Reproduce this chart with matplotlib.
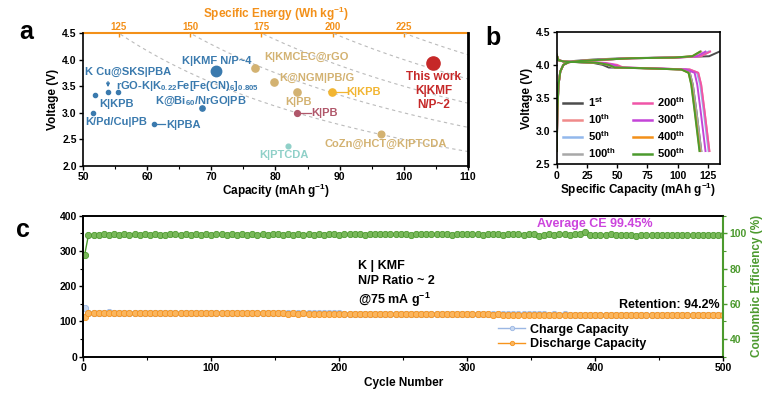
import numpy as np
import matplotlib
matplotlib.use("Agg")
import matplotlib.pyplot as plt
from matplotlib.ticker import MultipleLocator

plt.rcParams['font.family'] = ['Liberation Sans', 'DejaVu Sans']
plt.rcParams['font.weight'] = 'bold'
plt.rcParams['axes.labelweight'] = 'bold'
plt.rcParams['mathtext.fontset'] = 'custom'
plt.rcParams['mathtext.rm'] = 'Liberation Sans:bold'
plt.rcParams['mathtext.it'] = 'Liberation Sans:bold'
plt.rcParams['mathtext.bf'] = 'Liberation Sans:bold'
plt.rcParams['axes.linewidth'] = 1.2

BLUE = '#3A7AAE'
TAN = '#D3B271'
YELLOW = '#F2B531'
MAUVE = '#B0576A'
TEAL = '#8FD0C8'
RED = '#C62828'
ORANGE = '#F39019'
GREEN = '#4C9A2E'

# ---------- panel a: comparison ----------
lit_names = ['K|KMF N/P~4', 'K Cu@SKS|PBA', 'rGO', 'K|KPB', 'K/Pd/Cu|PB', 'K|PBA',
             'K@Bi60/NrGO|PB', 'K|KMCEC@rGO', 'K@NGM|PB/G', 'K|PB', 'K|KPB (y)',
             'K|PB (m)', 'CoZn@HCT@K|PTCDA', 'K|PTCDA', 'This work']
lit_cap = [70.7, 53.9, 55.4, 51.9, 51.5, 61.0, 68.5, 76.8, 79.7, 83.3, 88.75,
           83.3, 96.4, 82.0, 104.5]
lit_volt = [3.79, 3.39, 3.39, 3.33, 2.99, 2.79, 3.10, 3.84, 3.58, 3.40, 3.40,
            2.99, 2.60, 2.38, 3.93]
lit_color = [BLUE, BLUE, BLUE, BLUE, BLUE, BLUE, BLUE, TAN, TAN, TAN, YELLOW,
             MAUVE, TAN, TEAL, RED]
lit_size = [7.5, 3.0, 3.0, 3.0, 3.0, 3.0, 3.8, 5.2, 5.2, 5.2, 5.2, 4.2, 4.8, 3.4, 9.5]
energy_lines = [125, 150, 175, 200, 225]

# ---------- panel b: charge/discharge profiles ----------
cycle_names = ['1$^{st}$', '10$^{th}$', '50$^{th}$', '100$^{th}$',
               '200$^{th}$', '300$^{th}$', '400$^{th}$', '500$^{th}$']
cycle_colors = ['#4D4D4D', '#F08A8A', '#92B8EC', '#A8A8A8',
                '#F055A8', '#C444D8', '#F39019', '#4C9A2E']
chg_v = [2.70, 3.30, 3.70, 3.90, 4.00, 4.04, 4.06, 4.08, 4.10, 4.11, 4.13, 4.20]
chg_cap = [
    [0, 0.6, 1.5, 3.0, 5.5, 9.0, 15, 30, 55, 90, 126, 134.5],
    [0, 0.6, 1.5, 3.0, 5.5, 10, 20, 40, 62, 100, 119, 126.5],
    [0, 0.6, 1.5, 3.0, 5.5, 10, 20, 40, 62, 100, 118, 125.5],
    [0, 0.6, 1.5, 3.0, 5.5, 10, 20, 40, 62, 98, 113, 119.5],
    [0, 0.6, 1.5, 3.0, 5.5, 10, 20, 40, 62, 100, 119, 126.8],
    [0, 0.6, 1.5, 3.0, 5.5, 10, 20, 40, 62, 98, 116, 123.0],
    [0, 0.6, 1.5, 3.0, 5.5, 10, 20, 40, 62, 97, 112, 118.8],
    [0, 0.6, 1.5, 3.0, 5.5, 10, 20, 40, 62, 97, 112, 118.5],
]
dis_v = [4.15, 4.07, 4.05, 4.03, 4.00, 3.96, 3.95, 3.93, 3.88, 3.70, 3.30, 2.70]
dis_cap = [
    [0, 1.5, 6, 30, 38, 43, 70, 104, 110, 112.5, 115.5, 119.5],
    [0, 1.5, 6, 36, 46, 52, 75, 110, 117, 119.4, 122.2, 126.2],
    [0, 1.5, 6, 36, 46, 52, 75, 109, 116, 118.6, 121.5, 125.5],
    [0, 1.5, 6, 33, 42, 47, 70, 104, 110, 112.5, 115.5, 119.5],
    [0, 1.5, 6, 40, 50, 55, 75, 110, 117, 119.4, 122.2, 126.2],
    [0, 1.5, 6, 38, 47, 52, 75, 107, 114, 116.2, 119.0, 123.0],
    [0, 1.5, 6, 34, 43, 48, 70, 103, 109, 111.4, 114.2, 118.3],
    [0, 1.5, 6, 34, 43, 48, 70, 103, 109, 111.2, 114.0, 118.0],
]

# ---------- panel c: long cycling ----------
cycles = np.r_[1, np.arange(4, 501, 4)]
discharge = [
    113.0, 122.6, 124.3, 124.6, 124.4, 124.7, 124.5, 124.3, 124.6, 124.4,
    124.2, 124.5, 124.3, 124.0, 124.2, 123.9, 124.1, 123.8, 124.0, 123.7,
    123.9, 123.6, 123.8, 123.5, 123.7, 123.4, 123.6, 123.3, 123.5, 123.2,
    123.4, 123.1, 123.3, 123.0, 123.2, 122.9, 122.7, 122.9, 122.6, 122.8,
    122.5, 122.7, 122.4, 122.6, 122.3, 122.1, 122.3, 122.0, 122.2, 121.9,
    122.1, 121.8, 121.6, 121.8, 121.5, 121.7, 121.4, 121.6, 121.3, 121.1,
    121.3, 121.0, 121.2, 120.9, 120.7, 120.9, 120.6, 120.8, 120.5, 120.7,
    120.4, 120.2, 120.4, 120.1, 120.3, 120.0, 119.8, 120.0, 119.7, 119.9,
    119.6, 119.8, 119.5, 119.3, 119.5, 119.2, 119.4, 119.1, 119.3, 119.0,
    119.2, 118.9, 119.1, 118.8, 119.0, 118.7, 118.9, 118.6, 118.8, 118.5,
    118.7, 118.4, 118.6, 118.3, 118.5, 118.2, 118.4, 118.1, 118.3, 118.0,
    118.2, 117.9, 118.1, 117.8, 118.0, 117.7, 117.9, 117.6, 117.8, 117.7,
    117.9, 117.6, 117.8, 117.7, 117.9, 117.8,
]
charge = [
    138.0, 124.2, 125.0, 125.3, 125.1, 125.4, 125.2, 125.0, 125.3, 125.1,
    124.9, 125.2, 125.0, 124.7, 124.9, 124.6, 124.8, 124.5, 124.7, 124.4,
    124.6, 124.3, 124.5, 124.2, 124.4, 124.1, 124.3, 124.0, 124.2, 123.9,
    124.1, 123.8, 124.0, 123.7, 123.9, 123.6, 123.4, 123.6, 123.3, 123.5,
    123.2, 123.4, 123.1, 123.3, 123.0, 122.8, 123.0, 122.7, 122.9, 122.6,
    122.8, 122.5, 122.3, 122.5, 122.2, 122.4, 122.1, 122.3, 122.0, 121.8,
    122.0, 121.7, 121.9, 121.6, 121.4, 121.6, 121.3, 121.5, 121.2, 121.4,
    121.1, 120.9, 121.1, 120.8, 121.0, 120.7, 120.5, 120.7, 120.4, 120.6,
    120.3, 120.5, 120.2, 120.0, 120.2, 119.9, 120.1, 119.8, 120.0, 119.7,
    119.9, 119.6, 119.8, 119.5, 119.7, 119.4, 119.6, 119.3, 119.5, 119.2,
    119.4, 119.1, 119.3, 119.0, 119.2, 118.9, 119.1, 118.8, 119.0, 118.7,
    118.9, 118.6, 118.8, 118.5, 118.7, 118.4, 118.6, 118.3, 118.5, 118.4,
    118.6, 118.3, 118.5, 118.4, 118.6, 118.5,
]
ce = [
    87.6, 98.9, 99.3, 99.2, 99.4, 99.3, 99.5, 99.2, 99.4, 99.3,
    99.4, 99.2, 99.5, 99.3, 99.4, 99.3, 99.2, 99.5, 99.4, 99.3,
    99.4, 99.3, 99.5, 99.2, 99.4, 99.3, 99.4, 99.5, 99.3, 99.4,
    99.2, 99.4, 99.3, 99.5, 99.3, 99.4, 99.2, 99.4, 99.5, 99.3,
    99.4, 99.3, 99.4, 99.2, 99.5, 99.3, 99.4, 99.3, 99.5, 99.4,
    99.3, 99.5, 99.6, 99.4, 99.5, 99.3, 99.6, 99.5, 99.4, 99.6,
    99.5, 99.4, 99.6, 99.5, 99.3, 99.5, 99.6, 99.4, 99.5, 99.4,
    99.6, 99.5, 99.3, 99.5, 99.4, 99.6, 99.5, 99.4, 99.3, 99.5,
    99.4, 99.5, 99.3, 99.6, 99.4, 99.5, 99.3, 99.4, 99.5, 98.7,
    99.2, 99.4, 99.3, 99.5, 99.4, 99.3, 99.6, 99.8, 100.5, 99.3,
    98.8, 99.2, 99.3, 99.4, 99.2, 99.3, 99.1, 99.2, 98.5, 99.0,
    99.2, 99.1, 99.3, 99.0, 99.2, 99.1, 99.0, 99.2, 99.1, 99.0,
    99.2, 99.1, 99.0, 99.1, 98.8, 99.0,
]

fig = plt.figure(figsize=(7.8, 4.03), dpi=100)

# ================= a =================
ax = fig.add_axes([0.1064, 0.588, 0.4936, 0.330])
cgrid = np.linspace(50, 110, 200)
for e in energy_lines:
    ax.plot(cgrid, 2 * e / cgrid, ls=(0, (3, 3)), color='#BBBBBB', lw=0.8, zorder=1)
for c, v, col, s in zip(lit_cap, lit_volt, lit_color, lit_size):
    ax.plot(c, v, 'o', color=col, ms=s, zorder=3)

kw = dict(fontsize=8, fontweight='bold')
ax.text(70.8, 3.97, 'K|KMF N/P~4', color=BLUE, ha='center', va='center', **kw)
ax.text(50.3, 3.77, 'K Cu@SKS|PBA', color=BLUE, ha='left', va='center', **kw)
ax.annotate('', xy=(53.9, 3.43), xytext=(53.9, 3.64),
            arrowprops=dict(arrowstyle='-|>', color=BLUE, lw=0.9, mutation_scale=5))
ax.text(55.2, 3.50, r'rGO-K|K$_{0.22}$Fe[Fe(CN)$_6$]$_{0.805}$', color=BLUE,
        ha='left', va='center', **kw)
ax.text(52.6, 3.17, 'K|KPB', color=BLUE, ha='left', va='center', **kw)
ax.text(50.3, 2.83, 'K/Pd/Cu|PB', color=BLUE, ha='left', va='center', **kw)
ax.plot([61.0, 62.8], [2.79, 2.79], color=BLUE, lw=0.9)
ax.text(62.9, 2.78, 'K|PBA', color=BLUE, ha='left', va='center', **kw)
ax.text(68.4, 3.22, r'K@Bi$_{60}$/NrGO|PB', color=BLUE, ha='center', va='center', **kw)
ax.text(78.3, 4.06, 'K|KMCEC@rGO', color=TAN, ha='left', va='center', **kw)
ax.text(80.6, 3.65, 'K@NGM|PB/G', color=TAN, ha='left', va='center', **kw)
ax.text(83.6, 3.21, 'K|PB', color=TAN, ha='center', va='center', **kw)
ax.plot([88.75, 91.1], [3.40, 3.40], color=YELLOW, lw=0.9)
ax.text(91.1, 3.40, 'K|KPB', color=YELLOW, ha='left', va='center', **kw)
ax.plot([83.3, 85.6], [2.99, 2.99], color=MAUVE, lw=0.9)
ax.text(85.6, 2.99, 'K|PB', color=MAUVE, ha='left', va='center', **kw)
ax.text(97.1, 2.41, 'CoZn@HCT@K|PTCDA', color=TAN, ha='center', va='center', **kw)
ax.text(81.3, 2.21, 'K|PTCDA', color=TEAL, ha='center', va='center', **kw)
ax.text(104.6, 3.41, 'This work\nK|KMF\nN/P~2', color=RED, ha='center',
        va='center', linespacing=1.25, fontsize=8.5, fontweight='bold')

ax.set_xlim(50, 110)
ax.set_ylim(2.0, 4.5)
ax.set_xticks([50, 60, 70, 80, 90, 100, 110])
ax.set_yticks([2.0, 2.5, 3.0, 3.5, 4.0, 4.5])
ax.xaxis.set_minor_locator(MultipleLocator(5))
ax.tick_params(labelsize=7.5, width=1, length=3, pad=1.5)
ax.tick_params(which='minor', length=2, width=0.8)
ax.tick_params(axis='y', right=False)
ax.set_xlabel('Capacity (mAh g$^{-1}$)', fontsize=8.5, labelpad=0)
ax.set_ylabel('Voltage (V)', fontsize=8.5, labelpad=2)
ax.spines['right'].set_linewidth(2)
ax.spines['top'].set_visible(False)
sec = ax.secondary_xaxis('top', functions=(lambda c: c * 2.25, lambda e: e / 2.25))
sec.set_xticks([125, 150, 175, 200, 225])
sec.tick_params(colors=ORANGE, labelsize=7, width=1, length=3, pad=1,
                direction='in')
sec.spines['top'].set_color(ORANGE)
sec.spines['top'].set_linewidth(1.5)
sec.set_xlabel('Specific Energy (Wh kg$^{-1}$)', color=ORANGE, fontsize=8.5, labelpad=2.5)
fig.text(0.033, 0.92, 'a', fontsize=18, fontweight='bold', ha='center', va='center')

# ================= b =================
axb = fig.add_axes([0.7137, 0.5923, 0.2094, 0.329])
for name, col, cc, dc in zip(cycle_names, cycle_colors, chg_cap, dis_cap):
    axb.plot(cc, chg_v, color=col, lw=1.4, label=name)
    axb.plot(dc, dis_v, color=col, lw=1.4)
axb.set_xlim(0, 135)
axb.set_ylim(2.5, 4.5)
axb.set_xticks([0, 25, 50, 75, 100, 125])
axb.set_yticks([2.5, 3.0, 3.5, 4.0, 4.5])
axb.tick_params(labelsize=7.5, width=1, length=3, pad=1.5)
axb.set_xlabel('Specific Capacity (mAh g$^{-1}$)', fontsize=8.5, labelpad=0)
axb.set_ylabel('Voltage (V)', fontsize=8.5, labelpad=2)
leg = axb.legend(loc='lower left', bbox_to_anchor=(0.04, 0.03), ncol=2, frameon=False,
                 fontsize=8, handlelength=1.7, handletextpad=0.5, columnspacing=1.6,
                 labelspacing=0.3, borderaxespad=0, borderpad=0)
for h in leg.get_lines():
    h.set_linewidth(1.8)
fig.text(0.632, 0.905, 'b', fontsize=18, fontweight='bold', ha='center', va='center')

# ================= c =================
axc = fig.add_axes([0.1068, 0.1149, 0.8205, 0.3499])
axc.plot(cycles, charge, '-o', color='#9BB7E3', mfc='#C7D8F2', mec='#9BB7E3',
         ms=4.5, mew=0.6, lw=1, label='Charge Capacity')
axc.plot(cycles, discharge, '-o', color='#F7941D', mfc='#FAB55E', mec='#F7941D',
         ms=4.5, mew=0.6, lw=1, label='Discharge Capacity')
axc.set_xlim(0, 500)
axc.set_ylim(0, 400)
axc.set_xticks([0, 100, 200, 300, 400, 500])
axc.set_yticks([0, 100, 200, 300, 400])
axc.xaxis.set_minor_locator(MultipleLocator(50))
axc.yaxis.set_minor_locator(MultipleLocator(50))
axc.tick_params(labelsize=7.5, width=1, length=3, pad=1.5)
axc.tick_params(which='minor', length=2, width=0.8)
axc.set_xlabel('Cycle Number', fontsize=8.5, labelpad=3)
axc.spines['right'].set_visible(False)
leg_c = axc.legend(loc='lower left', bbox_to_anchor=(0.64, 0.01), frameon=False,
                   fontsize=9, handlelength=2.2, handletextpad=0.4, labelspacing=0.2,
                   borderaxespad=0, markerscale=0.7)

ax2 = axc.twinx()
ax2.plot(cycles, ce, '-o', color=GREEN, mfc='#79B85A', mec=GREEN, ms=4.5, mew=0.6, lw=1)
ax2.set_ylim(30, 110)
ax2.set_yticks([40, 60, 80, 100])
ax2.yaxis.set_minor_locator(MultipleLocator(10))
ax2.tick_params(colors=GREEN, labelsize=7.5, width=1, length=3, pad=1.5)
ax2.tick_params(which='minor', length=2, width=0.8, colors=GREEN)
ax2.spines['right'].set_color(GREEN)
ax2.spines['right'].set_linewidth(1.5)
ax2.set_ylabel('Coulombic Efficiency (%)', color=GREEN, fontsize=8.5, labelpad=3)

axc.text(400, 376, 'Average CE 99.45%', color='#CC44DD', ha='center', va='center',
         fontsize=9, fontweight='bold')
axc.text(215, 205, 'K | KMF\nN/P Ratio ~ 2\n@75 mA g$^{-1}$', color='black',
         ha='left', va='center', fontsize=9, fontweight='bold', linespacing=1.3)
axc.text(497, 148, 'Retention: 94.2%', color='black', ha='right', va='center',
         fontsize=9, fontweight='bold')
fig.text(0.030, 0.43, 'c', fontsize=18, fontweight='bold', ha='center', va='center')

fig.savefig('out.png', dpi=100)
